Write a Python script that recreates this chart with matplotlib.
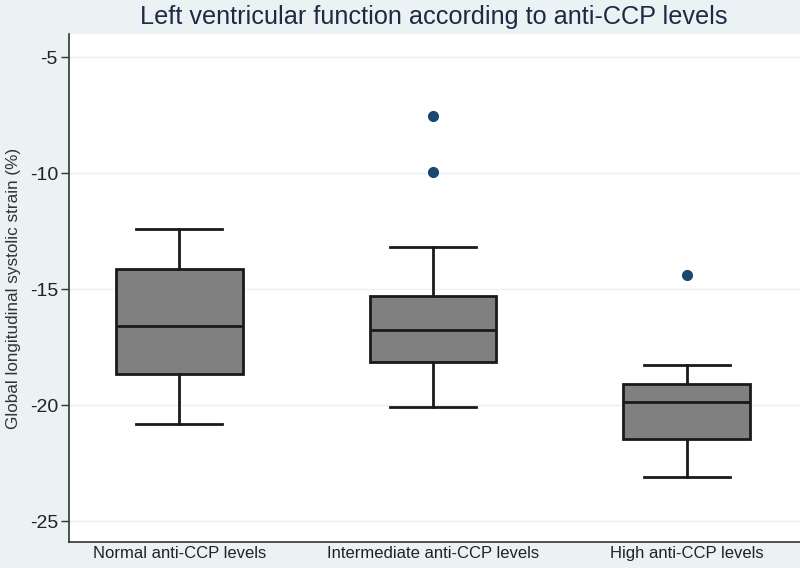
import matplotlib
matplotlib.use("Agg")
import matplotlib.pyplot as plt

# values
groups = ["Normal anti-CCP levels", "Intermediate anti-CCP levels", "High anti-CCP levels"]
whisker_low = [-20.8, -20.1, -23.1]
q1 = [-18.65, -18.15, -21.45]
median = [-16.6, -16.75, -19.85]
q3 = [-14.15, -15.3, -19.1]
whisker_high = [-12.4, -13.2, -18.25]
outliers = [[], [-7.55, -9.95], [-14.4]]
yticks = [-5, -10, -15, -20, -25]

bg = "#eaf2f3"
plt.rcParams["font.family"] = ["Liberation Sans", "DejaVu Sans"]

fig = plt.figure(figsize=(8, 5.68), dpi=100, facecolor=bg)
ax = fig.add_axes([69 / 800, 1 - 542 / 568, 731 / 800, 508 / 568])
ax.set_facecolor("white")

stats = []
for i in range(len(groups)):
    stats.append(dict(med=median[i], q1=q1[i], q3=q3[i],
                      whislo=whisker_low[i], whishi=whisker_high[i],
                      fliers=outliers[i]))

ax.bxp(stats, positions=[1, 2, 3], widths=0.5, patch_artist=True,
       boxprops=dict(facecolor="#808080", edgecolor="#1a1a1a", linewidth=2),
       medianprops=dict(color="#1a1a1a", linewidth=2),
       whiskerprops=dict(color="#1a1a1a", linewidth=2),
       capprops=dict(color="#1a1a1a", linewidth=2),
       capwidths=0.34,
       flierprops=dict(marker="o", markerfacecolor="#1a476f",
                       markeredgecolor="#1a476f", markersize=7))

ax.set_xlim(0.566, 3.446)
ax.set_ylim(-25.9, -4.0)
ax.set_yticks(yticks)
ax.set_yticklabels([str(t) for t in yticks], fontsize=14, color="#222222")
ax.set_xticks([1, 2, 3])
ax.set_xticklabels(groups, fontsize=12, color="#222222")
ax.tick_params(axis="x", length=0, pad=3)
ax.tick_params(axis="y", length=6, width=1, color="#333333", pad=2)
ax.yaxis.grid(True, color=bg, linewidth=1)
ax.set_axisbelow(True)

for s in ["top", "right"]:
    ax.spines[s].set_visible(False)
for s in ["left", "bottom"]:
    ax.spines[s].set_color("#333333")
    ax.spines[s].set_linewidth(1.2)

ax.set_ylabel("Global longitudinal systolic strain (%)", fontsize=12.3,
              color="#333333", labelpad=6)
fig.suptitle("Left ventricular function according to anti-CCP levels",
             x=434 / 800, y=0.992, fontsize=18.2, color="#1e2a44")

fig.savefig("out.png", dpi=100, facecolor=bg)
